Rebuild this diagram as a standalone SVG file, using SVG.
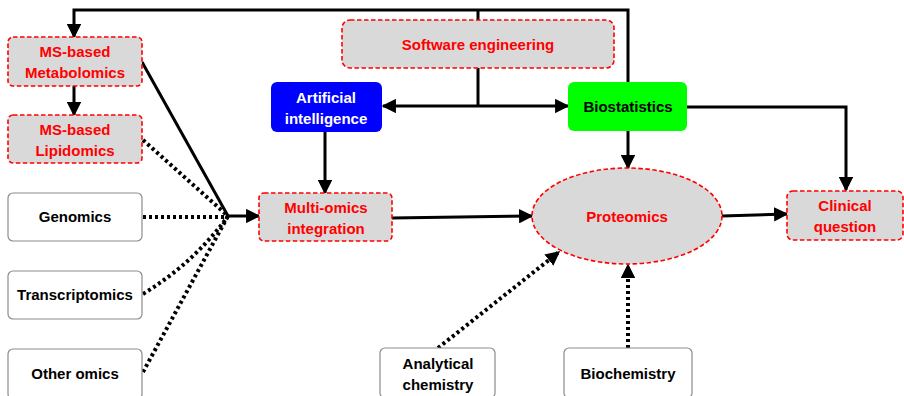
<svg xmlns="http://www.w3.org/2000/svg" width="904" height="396" viewBox="0 0 904 396">
  <defs>
    <marker id="arrow" viewBox="0 0 10 10" refX="9" refY="5" markerWidth="4.8" markerHeight="4.8" markerUnits="strokeWidth" orient="auto-start-reverse">
      <path d="M0,0 L10,5 L0,10 z" fill="#000"/>
    </marker>
    <marker id="arrowDot" viewBox="0 0 10 10" refX="9" refY="5" markerWidth="3.6" markerHeight="3.6" markerUnits="strokeWidth" orient="auto">
      <path d="M0,0 L10,5 L0,10 z" fill="#000"/>
    </marker>
  </defs>
  <style>
    text { font-family: "Liberation Sans", Arial, sans-serif; font-weight: bold; font-size: 15px; text-anchor: middle; }
    .red rect, .red ellipse { fill: #d9d9d9; stroke: #ff0000; stroke-width: 1.6; stroke-dasharray: 4.5 2.5; }
    .red text { fill: #ff0000; }
    .plain rect { fill: #ffffff; stroke: #8c8c8c; stroke-width: 1.2; }
    .plain text { fill: #000; }
    .solid { fill: none; stroke: #000; stroke-width: 3; }
    .dotted { fill: none; stroke: #000; stroke-width: 4; stroke-dasharray: 3 3; }
  </style>
  <rect width="904" height="396" fill="#ffffff"/>

  <!-- connectors -->
  <g id="connectors">
    <!-- top bus from Biostatistics back to Metabolomics -->
    <path class="solid" d="M628,82 V10 H74 V37" marker-end="url(#arrow)"/>
    <path class="solid" d="M478,10 V20"/>
    <!-- Software engineering to AI and Biostatistics -->
    <path class="solid" d="M478,68 V106"/>
    <path class="solid" d="M383,106 H568" marker-start="url(#arrow)" marker-end="url(#arrow)"/>
    <!-- Metabolomics to Lipidomics -->
    <path class="solid" d="M74,86 V115" marker-end="url(#arrow)"/>
    <!-- AI to Multi-omics -->
    <path class="solid" d="M325,132 V193" marker-end="url(#arrow)"/>
    <!-- Biostatistics to Proteomics and Clinical question -->
    <path class="solid" d="M628,131 V168" marker-end="url(#arrow)"/>
    <path class="solid" d="M687,107 H846 V190" marker-end="url(#arrow)"/>
    <!-- omics inputs converge -->
    <path class="solid" d="M142,62 L228,216"/>
    <path class="solid" d="M226,216 H259" marker-end="url(#arrow)"/>
    <path class="dotted" d="M143,140 L228,216"/>
    <path class="dotted" d="M143,217 H228"/>
    <path class="dotted" d="M143,294 Q195,262 228,216"/>
    <path class="dotted" d="M143,372 L228,216"/>
    <!-- Multi-omics to Proteomics -->
    <path class="solid" d="M392,218 L532,216" marker-end="url(#arrow)"/>
    <!-- Proteomics to Clinical question -->
    <path class="solid" d="M722,216 L787,214" marker-end="url(#arrow)"/>
    <!-- chemistry inputs -->
    <path class="dotted" d="M438,348 L559,252" marker-end="url(#arrowDot)"/>
    <path class="dotted" d="M628,348 V265" marker-end="url(#arrowDot)"/>
  </g>

  <g id="metabolomics" class="red">
    <rect x="8" y="37" width="134" height="49" rx="5"/>
    <text x="75" y="57">MS-based</text>
    <text x="75" y="78">Metabolomics</text>
  </g>
  <g id="lipidomics" class="red">
    <rect x="8" y="115" width="134" height="48" rx="5"/>
    <text x="75" y="135">MS-based</text>
    <text x="75" y="156">Lipidomics</text>
  </g>
  <g id="genomics" class="plain">
    <rect x="8" y="193" width="134" height="48" rx="5"/>
    <text x="75" y="222">Genomics</text>
  </g>
  <g id="transcriptomics" class="plain">
    <rect x="8" y="271" width="134" height="48" rx="5"/>
    <text x="75" y="300">Transcriptomics</text>
  </g>
  <g id="other-omics" class="plain">
    <rect x="8" y="349" width="134" height="50" rx="5"/>
    <text x="75" y="379">Other omics</text>
  </g>
  <g id="software-engineering" class="red">
    <rect x="342" y="20" width="272" height="48" rx="8"/>
    <text x="478" y="50">Software engineering</text>
  </g>
  <g id="artificial-intelligence">
    <rect x="271" y="82" width="111" height="50" rx="6" fill="#0000ff"/>
    <text x="326" y="103" fill="#ffffff">Artificial</text>
    <text x="326" y="124" fill="#ffffff">intelligence</text>
  </g>
  <g id="biostatistics">
    <rect x="568" y="82" width="119" height="49" rx="6" fill="#00ff00"/>
    <text x="628" y="112" fill="#000">Biostatistics</text>
  </g>
  <g id="multi-omics" class="red">
    <rect x="259" y="193" width="133" height="48" rx="5"/>
    <text x="326" y="213">Multi-omics</text>
    <text x="326" y="234">integration</text>
  </g>
  <g id="proteomics" class="red">
    <ellipse cx="627" cy="216" rx="95" ry="48"/>
    <text x="627" y="222">Proteomics</text>
  </g>
  <g id="clinical-question" class="red">
    <rect x="787" y="191" width="116" height="49" rx="6"/>
    <text x="845" y="211">Clinical</text>
    <text x="845" y="232">question</text>
  </g>
  <g id="analytical-chemistry" class="plain">
    <rect x="380" y="348" width="115" height="50" rx="5"/>
    <text x="438" y="369">Analytical</text>
    <text x="438" y="390">chemistry</text>
  </g>
  <g id="biochemistry" class="plain">
    <rect x="564" y="348" width="128" height="50" rx="5"/>
    <text x="628" y="379">Biochemistry</text>
  </g>
</svg>
